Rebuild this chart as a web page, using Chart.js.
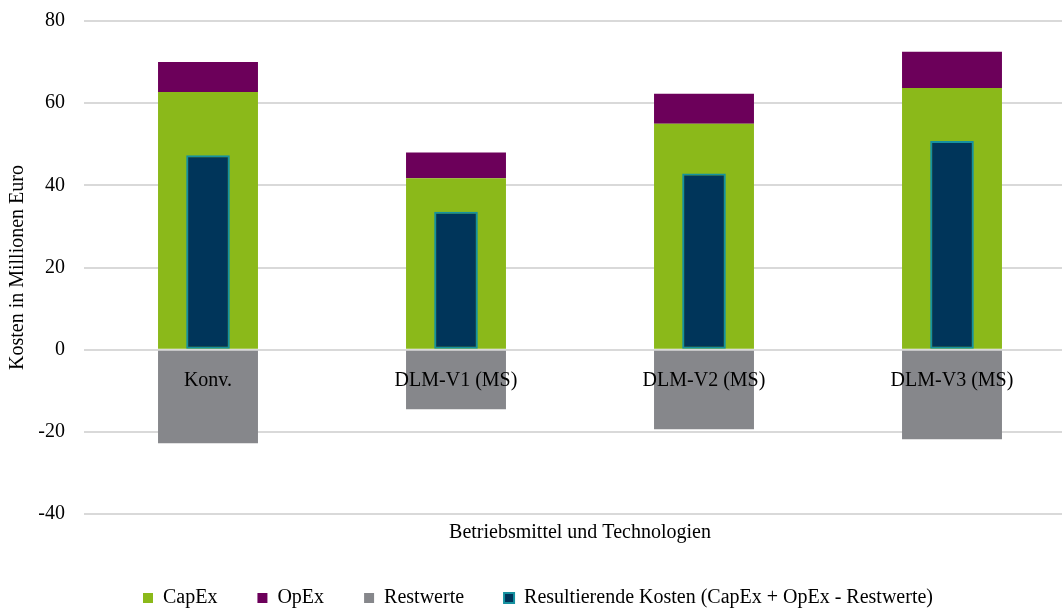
<!DOCTYPE html>
<html lang="de">
<head>
<meta charset="utf-8">
<script src="https://cdn.jsdelivr.net/npm/chart.js@4"></script>
<style>
    html, body { margin: 0; padding: 0; background: #fff; overflow: hidden; }
    #wrap { width: 1076px; height: 618px; position: relative; }
</style>
</head>
<body>
<div id="wrap"><canvas id="kostenChart"></canvas></div>
<script>
// Daten aus dem Diagramm (Millionen Euro)
const categories = ['Konv.', 'DLM-V1 (MS)', 'DLM-V2 (MS)', 'DLM-V3 (MS)'];
const capex = [62.7, 41.7, 55.0, 63.7];
const opex = [7.3, 6.3, 7.3, 8.8];
const restwerte = [-22.8, -14.5, -19.4, -21.8];
const resultierend = [47.3, 33.6, 42.9, 50.8];
const yTicks = [-40, -20, 0, 20, 40, 60, 80];

const font = "'Liberation Serif', 'Times New Roman', serif";
const textColor = '#000';

const ctx = document.getElementById('kostenChart').getContext('2d');

new Chart(ctx, {
    type: 'bar',
    data: {
        labels: categories,
        datasets: [
            {
                label: 'CapEx',
                data: capex,
                backgroundColor: '#8BB91A',
                stack: 'main',
                order: 1
            },
            {
                label: 'OpEx',
                data: opex,
                backgroundColor: '#6C005A',
                stack: 'main',
                order: 1
            },
            {
                label: 'Restwerte',
                data: restwerte,
                backgroundColor: '#86878B',
                stack: 'main',
                order: 1
            },
            {
                label: 'Resultierende Kosten (CapEx + OpEx - Restwerte)',
                data: resultierend,
                backgroundColor: '#00355A',
                borderColor: '#1591A0',
                borderWidth: 2,
                borderSkipped: false,
                barPercentage: 0.176,
                stack: 'res',
                order: 0
            }
        ]
    },
    options: {
        responsive: true,
        maintainAspectRatio: false,
        animation: false,
        datasets: {
            bar: {
                grouped: false,
                categoryPercentage: 1,
                barPercentage: 0.403
            }
        },
        layout: {
            padding: { top: 21, left: 0, right: 0, bottom: 0 }
        },
        plugins: {
            tooltip: { enabled: false },
            legend: {
                position: 'bottom',
                labels: {
                    sort: (a, b) => a.datasetIndex - b.datasetIndex,
                    color: textColor,
                    font: { family: font, size: 20 },
                    boxWidth: 10,
                    boxHeight: 10,
                    padding: 40
                }
            }
        },
        scales: {
            x: {
                type: 'category',
                position: { y: 0 },
                grid: { display: false, drawTicks: false },
                border: { display: false },
                ticks: {
                    z: 1,
                    color: textColor,
                    font: { family: font, size: 20 },
                    padding: 19,
                    maxRotation: 0
                },
                afterFit: (scale) => { scale.height = 0; }
            },
            xTitle: {
                type: 'category',
                axis: 'x',
                position: 'bottom',
                grid: { display: false, drawTicks: false },
                border: { display: false },
                ticks: { display: false },
                title: {
                    display: true,
                    text: 'Betriebsmittel und Technologien',
                    color: textColor,
                    font: { family: font, size: 20 },
                    padding: { top: 7, bottom: 3 }
                }
            },
            y: {
                stacked: true,
                min: -40,
                max: 80,
                afterBuildTicks: (scale) => {
                    scale.ticks = yTicks.map(v => ({ value: v }));
                },
                grid: {
                    color: '#D9D9D9',
                    lineWidth: 2,
                    drawTicks: false
                },
                border: { display: false },
                ticks: {
                    color: textColor,
                    font: { family: font, size: 20 },
                    padding: 19
                },
                title: {
                    display: true,
                    text: 'Kosten in Millionen Euro',
                    color: textColor,
                    font: { family: font, size: 20 },
                    padding: 6
                },
                afterFit: (scale) => {
                    scale.width = 84;
                    scale.paddingTop = 12;
                    scale.paddingBottom = 12;
                }
            }
        }
    }
});
</script>
</body>
</html>
